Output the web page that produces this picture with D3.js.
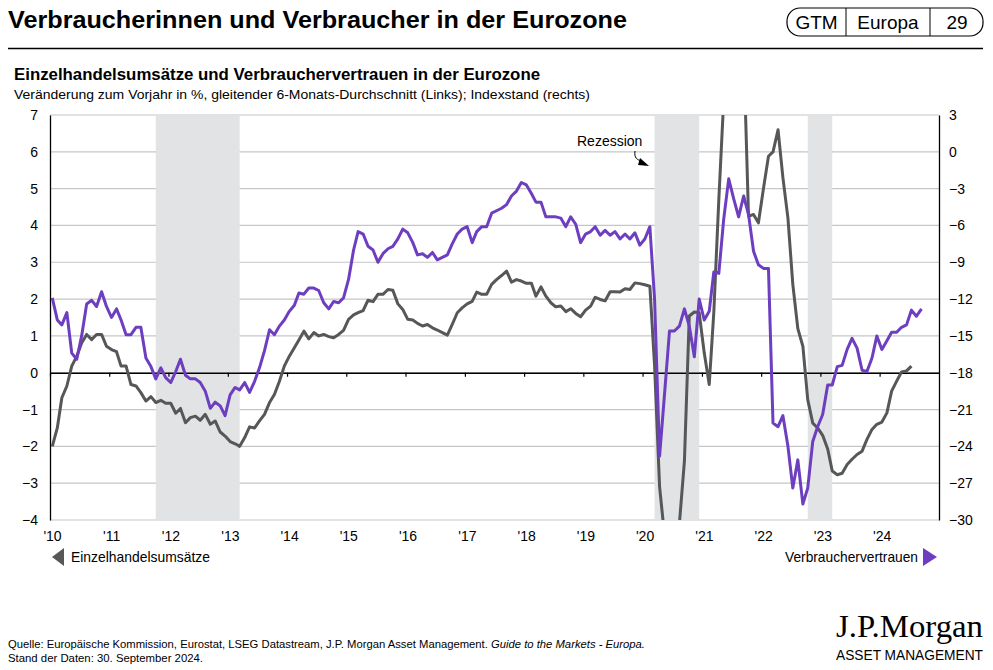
<!DOCTYPE html>
<html><head><meta charset="utf-8">
<script src="https://cdn.jsdelivr.net/npm/d3@7/dist/d3.min.js"></script>
<style>
html,body{margin:0;padding:0;background:#fff;}
svg{display:block;}
text{font-family:'Liberation Sans Narrow','Arial Narrow','Liberation Sans',Arial,sans-serif;}
</style></head>
<body><svg id="c" width="993" height="670"></svg>
<script>
// ---- data (monthly, starting Jan 2010) ----
const startYear = 2010;
// Einzelhandelsumsätze, % y/y, 6M moving average (left axis)
const retailSales = [
-2.0,-1.5,-0.68,-0.36,0.18,0.45,0.81,1.04,0.9,1.04,1.04,0.72,
0.63,0.57,0.18,0.18,-0.32,-0.36,-0.54,-0.77,-0.65,-0.81,-0.75,-0.83,
-0.83,-1.1,-0.97,-1.36,-1.22,-1.18,-1.29,-1.13,-1.4,-1.31,-1.61,-1.72,
-1.87,-1.93,-2.0,-1.76,-1.47,-1.5,-1.31,-1.13,-0.81,-0.59,-0.23,0.18,
0.45,0.68,0.89,1.13,0.92,1.09,1.0,1.04,0.98,0.95,1.04,1.15,
1.45,1.57,1.63,1.69,1.97,1.93,2.13,2.13,2.26,2.24,1.87,1.72,
1.45,1.43,1.34,1.27,1.31,1.22,1.16,1.09,1.02,1.31,1.63,1.76,
1.87,1.94,2.19,2.13,2.13,2.4,2.53,2.64,2.76,2.46,2.53,2.49,
2.43,2.43,2.08,2.33,2.08,1.9,1.79,1.81,1.66,1.74,1.61,1.52,
1.7,1.81,2.05,1.99,1.95,2.2,2.2,2.19,2.28,2.26,2.44,2.42,
2.39,2.35,0.2,-3.1,-4.4,-4.7,-4.7,-4.1,-2.4,1.54,1.65,1.63,
0.54,-0.32,1.63,4.7,7.4,9.6,10.2,9.8,8.8,4.25,4.3,4.07,
5.0,5.88,6.0,6.6,5.3,4.2,2.4,1.2,0.72,-0.73,-1.37,-1.5,
-1.7,-2.07,-2.67,-2.77,-2.73,-2.49,-2.35,-2.22,-2.13,-1.81,-1.54,-1.4,
-1.34,-1.09,-0.5,-0.23,0.02,0.05,0.18
];
// Verbrauchervertrauen, index level (right axis)
const consumerConfidence = [
-11.9,-13.7,-14.1,-13.1,-16.4,-16.9,-15.0,-12.4,-12.1,-12.6,-11.4,-12.6,
-13.5,-12.8,-13.7,-14.9,-14.9,-14.3,-14.3,-16.8,-17.5,-18.5,-17.6,-18.4,
-18.8,-17.9,-16.9,-18.2,-18.5,-18.5,-18.8,-19.5,-20.9,-20.4,-20.7,-21.5,
-19.8,-19.2,-19.4,-18.8,-19.6,-18.7,-17.6,-16.2,-14.5,-14.9,-14.2,-13.7,
-13.0,-12.5,-11.5,-11.6,-11.1,-11.1,-11.3,-12.3,-12.8,-12.2,-12.3,-11.9,
-10.4,-8.0,-6.5,-6.7,-7.7,-8.0,-9.0,-8.3,-7.9,-7.7,-7.1,-6.3,
-6.6,-7.4,-8.4,-8.3,-8.6,-8.2,-8.8,-8.6,-8.4,-7.5,-6.7,-6.3,
-6.1,-7.4,-6.5,-6.1,-6.1,-5.0,-4.8,-4.6,-4.3,-3.6,-3.2,-2.5,
-2.7,-3.4,-4.1,-4.1,-5.3,-5.3,-5.3,-5.4,-6.1,-5.3,-5.9,-7.4,
-6.7,-6.5,-6.1,-6.8,-6.4,-6.8,-6.5,-7.1,-6.7,-7.1,-6.6,-7.6,
-7.1,-6.1,-12.0,-24.8,-19.8,-14.6,-14.6,-14.2,-12.8,-14.2,-16.7,-12.0,
-13.7,-13.0,-9.8,-9.9,-5.5,-2.2,-3.8,-5.3,-3.6,-5.1,-8.1,-9.2,
-9.5,-9.5,-22.1,-22.4,-21.5,-24.0,-27.4,-25.1,-28.7,-27.4,-23.6,-22.4,
-21.4,-19.0,-19.0,-17.5,-17.4,-16.1,-15.2,-16.0,-17.8,-17.9,-16.8,-15.0,
-16.1,-15.4,-14.7,-14.7,-14.3,-14.1,-12.9,-13.4,-12.8
];
const recessions = [["2011-10-15","2013-03-15"],["2020-03-15","2020-12-15"],["2022-10-15","2023-03-15"]];
const leftTicks = [7,6,5,4,3,2,1,0,-1,-2,-3,-4];
const rightTicks = [3,0,-3,-6,-9,-12,-15,-18,-21,-24,-27,-30];
const xTickYears = d3.range(2010, 2025);

const svg = d3.select("#c");
const L = 50, R = 939, T = 115, B = 520;
const x = d3.scaleTime().domain([new Date(2010,0,1), new Date(2025,0,1)]).range([L,R]);
const yL = d3.scaleLinear().domain([-4,7]).range([B,T]);
const yR = d3.scaleLinear().domain([-30,3]).range([B,T]);
const dateOf = i => new Date(startYear, i, 15);
const purple = "#6d3fc0", gray = "#555759";

function fitText(sel, w){ sel.attr("textLength", w).attr("lengthAdjust","spacingAndGlyphs"); return sel; }

// header
fitText(svg.append("text").attr("x",8).attr("y",28).attr("font-size",23).attr("font-weight","bold")
  .text("Verbraucherinnen und Verbraucher in der Eurozone"), 619);
svg.append("rect").attr("x",787).attr("y",8).attr("width",196).attr("height",28).attr("rx",13)
  .attr("fill","none").attr("stroke","#000").attr("stroke-width",1.2);
svg.append("line").attr("x1",846).attr("x2",846).attr("y1",8).attr("y2",36).attr("stroke","#000").attr("stroke-width",1);
svg.append("line").attr("x1",930).attr("x2",930).attr("y1",8).attr("y2",36).attr("stroke","#000").attr("stroke-width",1);
[["GTM",816.5],["Europa",888],["29",957]].forEach(([t,cx])=>{
  svg.append("text").attr("x",cx).attr("y",29).attr("text-anchor","middle").attr("font-size",19).text(t);
});
svg.append("line").attr("x1",8).attr("x2",983).attr("y1",48.5).attr("y2",48.5).attr("stroke","#000").attr("stroke-width",1.3);

fitText(svg.append("text").attr("x",14).attr("y",80).attr("font-size",16).attr("font-weight","bold")
  .text("Einzelhandelsumsätze und Verbrauchervertrauen in der Eurozone"), 526);
fitText(svg.append("text").attr("x",14).attr("y",99).attr("font-size",13.5)
  .text("Veränderung zum Vorjahr in %, gleitender 6-Monats-Durchschnitt (Links); Indexstand (rechts)"), 576);

// gridlines
svg.append("g").selectAll("line").data(leftTicks).join("line")
  .attr("x1",L).attr("x2",R).attr("y1",d=>yL(d)).attr("y2",d=>yL(d))
  .attr("stroke","#c6c6c6").attr("stroke-width",1.2);

// recession shading
svg.append("g").selectAll("rect").data(recessions).join("rect")
  .attr("x",d=>x(new Date(d[0]))).attr("width",d=>x(new Date(d[1]))-x(new Date(d[0])))
  .attr("y",T).attr("height",B-T).attr("fill","#e2e3e5");

// axes
const axL = svg.append("g").attr("transform",`translate(${L},0)`)
  .call(d3.axisLeft(yL).tickValues(leftTicks).tickSize(0).tickSizeOuter(0).tickPadding(12).tickFormat(d3.format("d")));
const axR = svg.append("g").attr("transform",`translate(${R},0)`)
  .call(d3.axisRight(yR).tickValues(rightTicks).tickSize(0).tickSizeOuter(0).tickPadding(10).tickFormat(d3.format("d")));
[axL,axR].forEach(a=>{
  a.select(".domain").attr("stroke","#000").attr("stroke-width",1.3);
  a.selectAll("text").attr("font-size",14).attr("fill","#000").style("font-family","'Liberation Sans',Arial,sans-serif");
});

// zero line with year ticks
const ax0 = svg.append("g").attr("transform",`translate(0,${yL(0)})`)
  .call(d3.axisBottom(x).tickValues(xTickYears.map(y=>new Date(y,0,1))).tickSize(4).tickSizeOuter(0).tickFormat(""));
ax0.select(".domain").attr("stroke","#000").attr("stroke-width",1.3);
ax0.selectAll(".tick line").attr("stroke","#000").attr("stroke-width",1.2);

// year labels
const axB = svg.append("g").attr("transform",`translate(2,${B})`)
  .call(d3.axisBottom(x).tickValues(xTickYears.map(y=>new Date(y,0,1))).tickSize(0).tickPadding(11)
    .tickFormat(d=>"'"+String(d.getFullYear()).slice(2)));
axB.select(".domain").remove();
axB.selectAll("text").attr("font-size",14).attr("fill","#000");

// clip
svg.append("clipPath").attr("id","clip").append("rect").attr("x",L).attr("y",T).attr("width",R-L).attr("height",B-T);

const lineL = d3.line().x((d,i)=>x(dateOf(i))).y(d=>yL(d));
const lineR = d3.line().x((d,i)=>x(dateOf(i))).y(d=>yR(d));
const plot = svg.append("g").attr("clip-path","url(#clip)");
plot.append("path").datum(retailSales).attr("d",lineL).attr("fill","none")
  .attr("stroke",gray).attr("stroke-width",3).attr("stroke-linejoin","round");
plot.append("path").datum(consumerConfidence).attr("d",lineR).attr("fill","none")
  .attr("stroke",purple).attr("stroke-width",3).attr("stroke-linejoin","round");

// Rezession annotation
svg.append("text").attr("x",577).attr("y",146).attr("font-size",14).text("Rezession");
svg.append("path").attr("d","M635,151 C634,158 637,160 642,161").attr("fill","none").attr("stroke","#000").attr("stroke-width",1);
svg.append("path").attr("d","M640,158 L649,166 L638,165 Z").attr("fill","#000");

// legend
svg.append("path").attr("d","M52,557 L64,548 L64,566 Z").attr("fill",gray);
fitText(svg.append("text").attr("x",71).attr("y",562).attr("font-size",15).text("Einzelhandelsumsätze"),139);
svg.append("path").attr("d","M923,548 L937,557 L923,566 Z").attr("fill",purple);
fitText(svg.append("text").attr("x",918).attr("y",562).attr("text-anchor","end").attr("font-size",15).text("Verbrauchervertrauen"),133);

// footer
const f1 = svg.append("text").attr("x",8).attr("y",648).attr("font-size",11);
f1.append("tspan").text("Quelle: Europäische Kommission, Eurostat, LSEG Datastream, J.P. Morgan Asset Management. ");
f1.append("tspan").attr("font-style","italic").text("Guide to the Markets - Europa.");
fitText(f1, 637);
fitText(svg.append("text").attr("x",8).attr("y",662).attr("font-size",11).text("Stand der Daten: 30. September 2024."),195);

// logo
fitText(svg.append("text").attr("x",836).attr("y",637).attr("font-size",32)
  .style("font-family","'Liberation Serif','DejaVu Serif',serif").text("J.P.Morgan"),147);
fitText(svg.append("text").attr("x",836).attr("y",660).attr("font-size",14).text("ASSET MANAGEMENT"),147);
</script></body></html>
